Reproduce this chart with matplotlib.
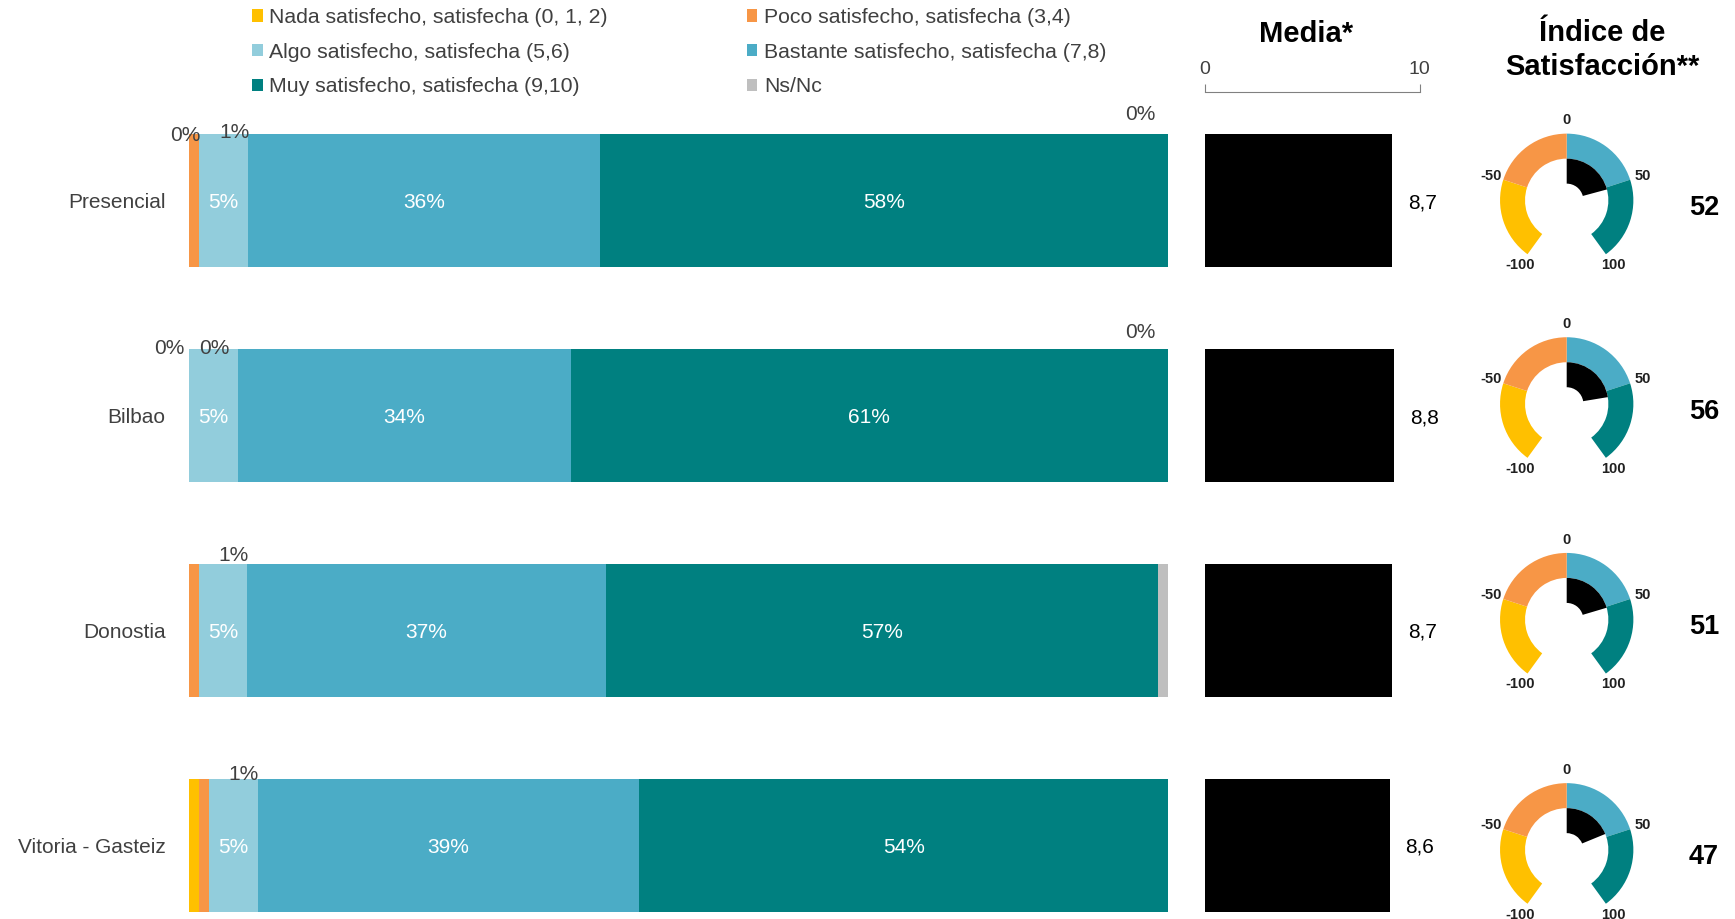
import matplotlib
matplotlib.use("Agg")
import matplotlib.pyplot as plt
from matplotlib.patches import Patch
import numpy as np

plt.rcParams['font.family'] = ['Liberation Sans', 'DejaVu Sans']

#
# DATOS
#
grupos = ["Presencial", "Bilbao", "Donostia", "Vitoria - Gasteiz"]
categorias = ["Nada satisfecho, satisfecha (0, 1, 2)",
              "Poco satisfecho, satisfecha (3,4)",
              "Algo satisfecho, satisfecha (5,6)",
              "Bastante satisfecho, satisfecha (7,8)",
              "Muy satisfecho, satisfecha (9,10)",
              "Ns/Nc"]
nada = [0, 0, 0, 1]
poco = [1, 0, 1, 1]
algo = [5, 5, 5, 5]
bastante = [36, 34, 37, 39]
muy = [58, 61, 57, 54]
nsnc = [0, 0, 1, 0]
media = [8.7, 8.8, 8.7, 8.6]
indice = [52, 56, 51, 47]
# tramos del indicador (de -100 a 100)
tramos_ind = [-100, -50, 0, 50, 100]

colores = ["#FFC000", "#F79646", "#92CDDC", "#4BACC6", "#008080", "#BFBFBF"]
gris_txt = "#404040"

# etiquetas pequenas encima de la barra: (fila, categoria, desplaz. x en %, desplaz. y en px)
etiq_sup = [(0, 0, -0.35, -2), (0, 1, 4.1, 1), (0, 5, -2.8, 19),
            (1, 0, -2.0, 0), (1, 1, 2.6, 0), (1, 5, -2.8, 16),
            (2, 1, 4.0, 8), (3, 1, 4.1, 4)]
# centros verticales de los relojes (px)
y_reloj = [200.3, 403.9, 619.6, 849.8]
x_reloj = 1566.7

W, H = 1735, 919
fig = plt.figure(figsize=(W / 100, H / 100), dpi=100)


def px_axes(x0, y0, x1, y1):
    return fig.add_axes([x0 / W, 1 - y1 / H, (x1 - x0) / W, (y1 - y0) / H])


def fmt_coma(v):
    return f"{v:.1f}".replace('.', ',')


series = np.array([nada, poco, algo, bastante, muy, nsnc], dtype=float).T
alto = 0.62

# barras 100% apiladas
ax = px_axes(189, 134, 1168, 912)
pct = series / series.sum(axis=1, keepdims=True) * 100
izq = np.zeros(len(grupos))
for k in range(len(categorias)):
    ax.barh(range(len(grupos)), pct[:, k], left=izq, height=alto,
            color=colores[k], linewidth=0)
    for i in range(len(grupos)):
        if series[i, k] >= 5:
            ax.text(izq[i] + pct[i, k] / 2, i, f"{series[i, k]:.0f}%",
                    color="white", ha="center", va="center_baseline", fontsize=15)
    izq += pct[:, k]

centros = np.cumsum(pct, axis=1) - pct / 2
for fila, cat, dx, dy in etiq_sup:
    ax.annotate(f"{series[fila, cat]:.0f}%", (centros[fila, cat] + dx, fila - alto / 2),
                xytext=(0, dy * 0.72), textcoords="offset points",
                ha="center", va="center", fontsize=15, color=gris_txt,
                annotation_clip=False)

ax.set_xlim(0, 100)
ax.set_ylim(len(grupos) - 1 + alto / 2, -alto / 2)
ax.set_yticks(range(len(grupos)))
ax.set_yticklabels(grupos, fontsize=15, color=gris_txt)
ax.tick_params(axis="y", length=0, pad=17)
ax.set_xticks([])
for s in ax.spines.values():
    s.set_visible(False)

# media
ax_m = px_axes(1205, 134, 1419.7, 912)
ax_m.barh(range(len(grupos)), media, height=alto, color="black", linewidth=0)
for i, v in enumerate(media):
    ax_m.annotate(fmt_coma(v), (v, i), xytext=(11.5, 0), textcoords="offset points",
                  ha="left", va="center_baseline", fontsize=15, color="black",
                  annotation_clip=False)
ax_m.set_xlim(0, 10)
ax_m.set_ylim(len(grupos) - 1 + alto / 2, -alto / 2)
ax_m.axis("off")

# escala de la media
ax_e = px_axes(1205, 91.5, 1419.7, 91.6)
ax_e.set_xlim(0, 10)
ax_e.set_xticks([0, 10])
ax_e.set_xticklabels(["0", "10"])
ax_e.set_yticks([])
for nombre, s in ax_e.spines.items():
    s.set_visible(nombre == "bottom")
ax_e.spines["bottom"].set_color("#808080")
ax_e.tick_params(axis="x", direction="in", length=6, color="#808080",
                 bottom=True, top=False, labelbottom=False, labeltop=True,
                 labelsize=14, labelcolor=gris_txt, pad=10)
ax_e.patch.set_visible(False)

fig.text(1306 / W, 1 - 34 / H, "Media*", ha="center", va="center",
         fontsize=21, fontweight="bold")
fig.text(1602 / W, 1 - 50 / H, "Índice de\nSatisfacción**", ha="center",
         va="center", fontsize=21, fontweight="bold", linespacing=1.3)

# indice de satisfaccion (reloj)
rango = tramos_ind[-1] - tramos_ind[0]
vuelta = rango / 0.8
hueco = vuelta - rango
for i, val in enumerate(indice):
    cy = y_reloj[i]
    axg = px_axes(x_reloj - 100, cy - 100, x_reloj + 100, cy + 100)
    axg.pie([50, 50, hueco, 50, 50],
            colors=[colores[3], colores[4], "none", colores[0], colores[1]],
            startangle=90, counterclock=False, radius=1,
            wedgeprops=dict(width=0.375, linewidth=0))
    axg.pie([val, vuelta - val], colors=["black", "none"], startangle=90,
            counterclock=False, radius=0.625,
            wedgeprops=dict(width=0.375, linewidth=0))
    for t in tramos_ind:
        ang = np.deg2rad(t * 360 / vuelta)
        axg.text(1.2 * np.sin(ang), 1.2 * np.cos(ang), f"{t}", ha="center",
                 va="center", fontsize=10.5, fontweight="bold", color="#202020")
    axg.set_xlim(-1.5, 1.5)
    axg.set_ylim(-1.5, 1.5)
    axg.set_aspect("equal")
    axg.axis("off")
    fig.text(1704 / W, 1 - (cy + 7.7) / H, f"{val}", ha="center", va="center",
             fontsize=19.5, fontweight="bold")

# leyenda
orden = [0, 2, 4, 1, 3, 5]
handles = [Patch(facecolor=colores[k], edgecolor="none") for k in orden]
fig.legend(handles, [categorias[k] for k in orden], ncol=2, frameon=False,
           loc="upper left", bbox_to_anchor=(252 / W, 1 - 8 / H),
           fontsize=15.3, labelcolor=gris_txt, handlelength=0.5, handleheight=0.5,
           handletextpad=0.3, labelspacing=0.74, columnspacing=6.55,
           borderpad=0, borderaxespad=0)

fig.savefig("out.png", dpi=100)
